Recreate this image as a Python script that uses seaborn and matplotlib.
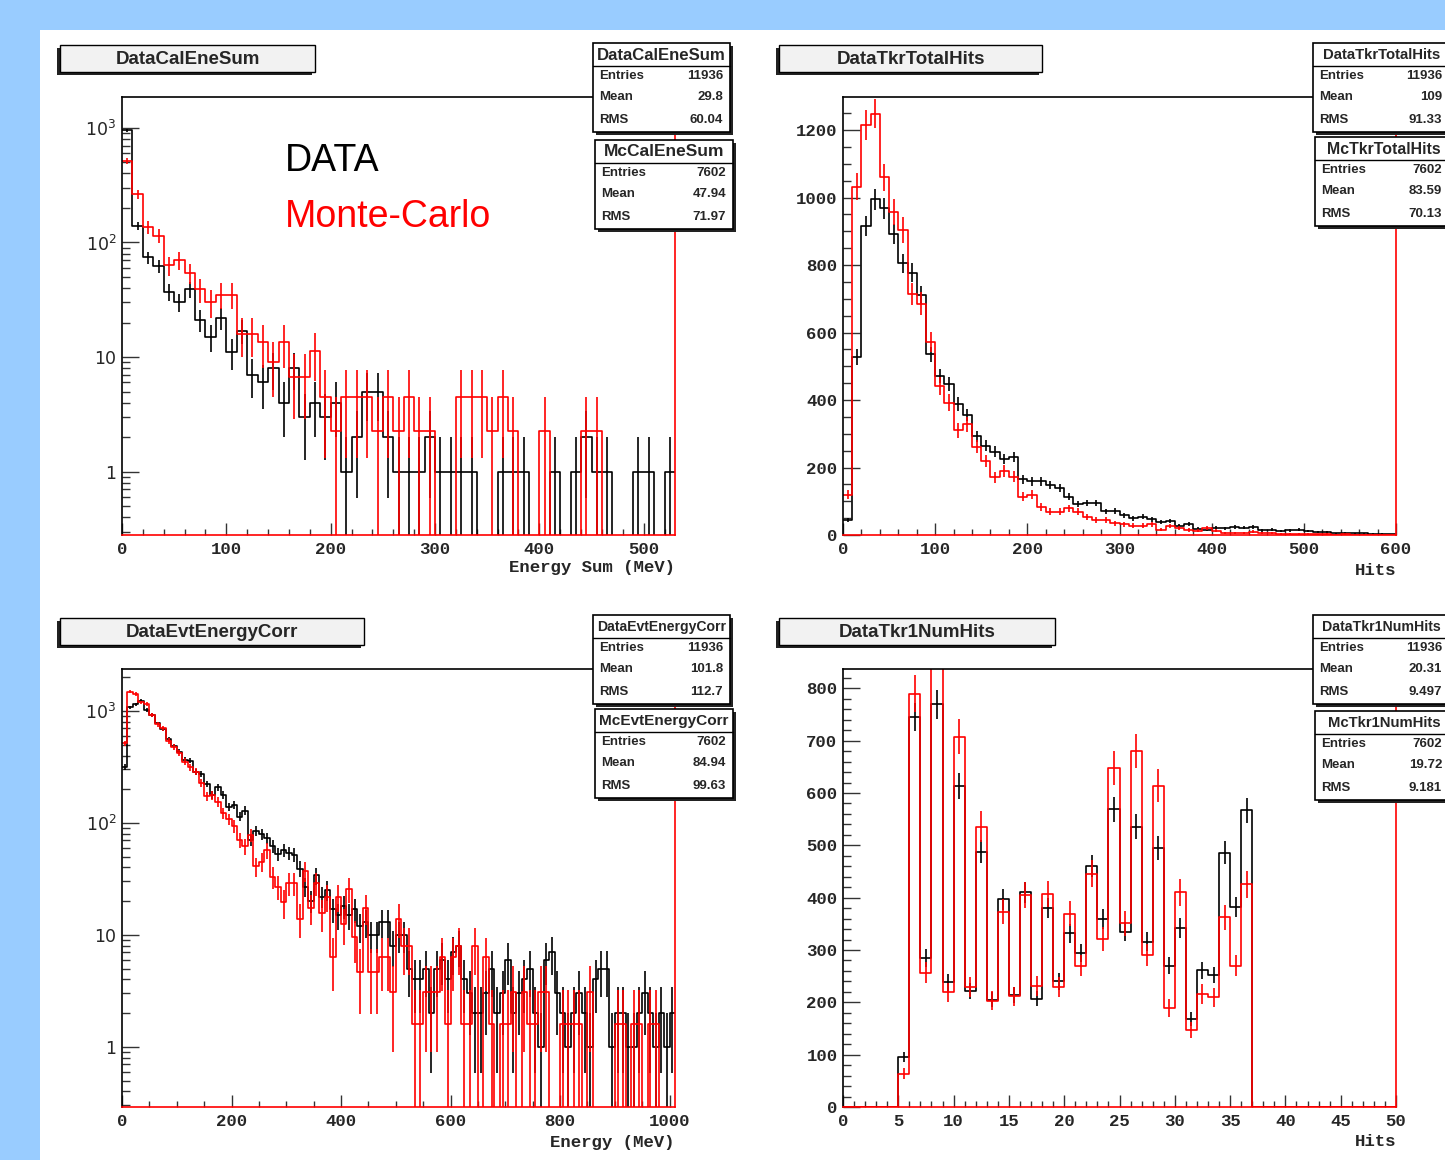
import numpy as np
import pandas as pd
import matplotlib
matplotlib.use("Agg")
import matplotlib.pyplot as plt
from matplotlib.patches import Rectangle
from matplotlib.lines import Line2D
from matplotlib.ticker import MultipleLocator, LogLocator, NullFormatter
import seaborn as sns

W, H = 1445, 1160

# ---- DataCalEneSum / McCalEneSum (10 MeV bins, 0-530) ----
cal_edges = np.arange(0, 531, 10)
cal_data = [950, 140, 74, 62, 37, 30, 39, 21, 15, 22, 11, 17, 7, 6, 8, 4, 8, 3, 4, 3,
            4, 1, 2, 5, 5, 2, 1, 1, 1, 2, 1, 1, 1, 1, 0, 0, 1, 1, 1, 0,
            0, 1, 0, 1, 2, 1, 1, 0, 0, 1, 1, 0, 1]
cal_mc = [515, 265, 136, 115, 63, 70, 54, 39, 30, 35, 35, 16, 16, 13.5, 9, 13.5, 6.75, 6.75, 11.25, 4.5,
          2.25, 4.5, 4.5, 4.5, 2.25, 4.5, 2.25, 4.5, 2.25, 2.25, 0, 0, 4.5, 4.5, 4.5, 2.25, 4.5, 2.25, 0, 0,
          2.25, 0, 0, 0, 2.25, 2.25, 0, 0, 0, 0, 0, 0, 0]
cal_scale = 2.25
cal_stats_data = ["11936", "29.8", "60.04"]
cal_stats_mc = ["7602", "47.94", "71.97"]

# ---- DataTkrTotalHits / McTkrTotalHits (10 hit bins, 0-600) ----
tkr_edges = np.arange(0, 601, 10)
tkr_data = [44, 528, 916, 995, 968, 891, 805, 777, 711, 535,
            471, 447, 388, 356, 292, 264, 247, 224, 232, 165,
            159, 159, 148, 138, 114, 92, 95, 95, 70, 72,
            58, 50, 54, 46, 38, 42, 28, 32, 18, 16,
            22, 20, 24, 22, 24, 14, 16, 12, 14, 16,
            12, 9, 9, 5, 6, 5, 5, 3, 4, 2]
tkr_mc = [120, 1032, 1215, 1249, 1060, 958, 904, 714, 686, 573,
          441, 392, 311, 328, 262, 219, 171, 190, 173, 114,
          119, 84, 69, 69, 79, 69, 54, 44, 44, 35,
          32, 28, 28, 32, 16, 27, 20, 15, 13, 20,
          13, 7, 7, 5, 10, 5, 6, 3, 4, 3,
          3, 2, 3, 1, 2, 1, 1, 1, 1, 0]
tkr_scale = 1.57
tkr_stats_data = ["11936", "109", "91.33"]
tkr_stats_mc = ["7602", "83.59", "70.13"]

# ---- DataEvtEnergyCorr / McEvtEnergyCorr (10 MeV bins, 0-1010) ----
evt_edges = np.arange(0, 1011, 10)
evt_data = [316, 1080, 1150, 1235, 1020, 920, 775, 686, 558, 487,
            433, 365, 360, 287, 274, 223, 178, 208, 178, 140,
            145, 114, 129, 70, 85, 80, 73, 62, 53, 57,
            54, 52, 39, 27, 20, 34, 22, 25, 17, 15,
            18, 15, 17, 12, 13, 10, 10, 13, 13, 8,
            10, 10, 5, 4, 4, 5, 2, 5, 6, 4,
            7, 8, 4, 3, 2, 2, 3, 5, 2, 3,
            6, 2, 3, 4, 5, 2, 1, 6, 7, 3,
            2, 1, 2, 3, 2, 1, 4, 5, 5, 1,
            2, 2, 1, 1, 2, 3, 2, 1, 2, 1, 2]
evt_mc = [515, 1490, 1420, 1190, 1150, 920, 760, 700, 540, 480,
          420, 353, 315, 287, 226, 174, 178, 155, 122, 108,
          93, 70, 62, 78, 41, 45, 57, 33, 27, 19.5,
          29, 29, 14, 37, 17.5, 29, 15.6, 22, 6.3, 22,
          12.6, 25.6, 9.5, 4.7, 17.5, 4.7, 4.7, 6.3, 6.3, 3.1,
          14, 7.9, 7.9, 1.6, 1.6, 3.1, 3.1, 3.1, 6.3, 1.6,
          6.3, 7.9, 1.6, 1.6, 7.9, 0, 6.3, 1.6, 0, 1.6,
          1.6, 3.1, 0, 3.1, 1.6, 1.6, 3.1, 3.1, 0, 0,
          1.6, 1.6, 1.6, 1.6, 0, 3.1, 0, 0, 0, 0,
          1.6, 1.6, 0, 1.6, 1.6, 0, 1.6, 1.6, 0, 0, 0]
evt_scale = 1.57
evt_stats_data = ["11936", "101.8", "112.7"]
evt_stats_mc = ["7602", "84.94", "99.63"]

# ---- DataTkr1NumHits / McTkr1NumHits (1 hit bins, 0-50) ----
hits_edges = np.arange(0, 51, 1)
hits_data = [0, 0, 0, 0, 0, 96, 745, 285, 770, 238,
             614, 222, 488, 205, 397, 214, 410, 207, 380, 240,
             332, 294, 461, 359, 569, 335, 536, 316, 495, 270,
             342, 168, 261, 252, 486, 382, 567, 0, 0, 0,
             0, 0, 0, 0, 0, 0, 0, 0, 0, 0]
hits_mc = [0, 0, 0, 0, 0, 64, 790, 257, 880, 219,
           708, 230, 536, 203, 373, 212, 405, 231, 407, 229,
           369, 270, 446, 321, 648, 351, 681, 291, 614, 189,
           410, 147, 216, 210, 363, 270, 426, 0, 0, 0,
           0, 0, 0, 0, 0, 0, 0, 0, 0, 0]
hits_scale = 1.57
hits_stats_data = ["11936", "20.31", "9.497"]
hits_stats_mc = ["7602", "19.72", "9.181"]

stat_labels = ["Entries", "Mean", "RMS"]

sns.set_style("ticks")
plt.rcParams["font.family"] = ["Liberation Sans", "DejaVu Sans"]
plt.rcParams["xtick.direction"] = "in"
plt.rcParams["ytick.direction"] = "in"

fig = plt.figure(figsize=(W / 100, H / 100), dpi=100)
fig.patch.set_facecolor("#99ccff")
fig.add_artist(Rectangle((40 / W, 0), 1 - 40 / W, 1 - 30 / H, transform=fig.transFigure,
                         facecolor="white", edgecolor="none", zorder=-10))
renderer = fig.canvas.get_renderer()

MONO = dict(fontfamily="Liberation Mono", fontweight="bold", fontsize=12.5)


def px(x, y):
    return x / W, 1 - y / H


def make_ax(x0, y0, x1, y1):
    return fig.add_axes([x0 / W, 1 - y1 / H, (x1 - x0) / W, (y1 - y0) / H])


def draw_hist(ax, edges, vals, color, scale, log):
    vals = np.asarray(vals, dtype=float)
    centers = (edges[:-1] + edges[1:]) / 2
    floor = 1e-3 if log else 0
    df = pd.DataFrame({"x": centers, "w": np.where(vals > 0, vals, floor)})
    sns.histplot(data=df, x="x", weights="w", bins=[float(e) for e in edges],
                 element="step", fill=False, color=color, linewidth=1.2, ax=ax)
    err = np.sqrt(vals * scale)
    m = vals > 0
    lo = np.maximum(vals - err, floor)
    ax.vlines(centers[m], lo[m], (vals + err)[m], colors=color, linewidth=1.2)


def style_ax(ax, log):
    for side in ["left", "top"]:
        ax.spines[side].set_color("black")
    for side in ["right", "bottom"]:
        ax.spines[side].set_color("red")
    for s in ax.spines.values():
        s.set_linewidth(1.2)
    ax.set_ylabel("")
    ax.tick_params(axis="x", which="major", length=8.5, width=1, color="#333333", pad=5)
    ax.tick_params(axis="x", which="minor", length=4.5, width=1, color="#333333")
    ax.tick_params(axis="y", which="major", length=12, width=1, color="#333333", pad=4)
    ax.tick_params(axis="y", which="minor", length=6, width=1, color="#333333")
    if log:
        ax.set_yscale("log")
        ax.set_yticks([1, 10, 100, 1000], ["1", "10", "$10^2$", "$10^3$"],
                      fontfamily="DejaVu Sans", fontsize=12.5)
        ax.yaxis.set_minor_locator(LogLocator(base=10, subs=np.arange(2, 10)))
        ax.yaxis.set_minor_formatter(NullFormatter())


def set_xticks(ax, major, step_minor):
    ax.set_xticks(major, [str(v) for v in major], **MONO)
    ax.xaxis.set_minor_locator(MultipleLocator(step_minor))


def set_yticks(ax, major, step_minor):
    ax.set_yticks(major, [str(v) for v in major], **MONO)
    ax.yaxis.set_minor_locator(MultipleLocator(step_minor))


def fit(txt, maxw):
    bb = txt.get_window_extent(renderer=renderer)
    if bb.width > maxw:
        txt.set_fontsize(txt.get_fontsize() * maxw / bb.width)


def title_box(x0, y0, x1, y1, text):
    fig.add_artist(Rectangle(px(x0 - 3, y1 + 3), (x1 - x0) / W, (y1 - y0) / H,
                             transform=fig.transFigure, facecolor="#222222",
                             edgecolor="none", zorder=5))
    fig.add_artist(Rectangle(px(x0, y1), (x1 - x0) / W, (y1 - y0) / H,
                             transform=fig.transFigure, facecolor="#f2f2f2",
                             edgecolor="black", linewidth=1, zorder=6))
    fig.text(*px((x0 + x1) / 2, (y0 + y1) / 2 + 1), text, ha="center", va="center",
             fontsize=13.5, fontweight="bold", zorder=7)


def stats_box(x0, y0, title, values, w=137, h=89):
    fig.add_artist(Rectangle(px(x0 + 3, y0 + h + 3), w / W, h / H, transform=fig.transFigure,
                             facecolor="#222222", edgecolor="none", zorder=8))
    fig.add_artist(Rectangle(px(x0, y0 + h), w / W, h / H, transform=fig.transFigure,
                             facecolor="white", edgecolor="black", linewidth=1.2, zorder=9))
    fig.add_artist(Line2D([x0 / W, (x0 + w) / W], [1 - (y0 + 23) / H] * 2, color="black",
                          linewidth=1, transform=fig.transFigure, zorder=10))
    cx = x0 + w / 2
    t = fig.text(*px(cx, y0 + 12), title, ha="center", va="center",
                 fontsize=12.5, fontweight="bold", zorder=10)
    # keep the header inside the box and inside the picture
    fit(t, min(w - 8, 2 * (W - 4 - cx)))
    for lab, val, dy in zip(stat_labels, values, [33, 54, 77]):
        fig.text(*px(x0 + 6, y0 + dy), lab, ha="left", va="center", fontsize=9.5,
                 fontweight="bold", zorder=10)
        fig.text(*px(min(x0 + w - 7, W - 3), y0 + dy), val, ha="right", va="center",
                 fontsize=9.5, fontweight="bold", zorder=10)


# top left: calorimeter energy sum
ax1 = make_ax(122, 97, 675, 535)
draw_hist(ax1, cal_edges, cal_data, "black", 1.0, True)
draw_hist(ax1, cal_edges, cal_mc, "red", cal_scale, True)
style_ax(ax1, True)
ax1.set_xlim(0, 530)
ax1.set_ylim(0.28, 1860)
set_xticks(ax1, np.arange(0, 501, 100), 20)
ax1.set_xlabel("Energy Sum (MeV)", loc="right", labelpad=2, **MONO)

# top right: tracker total hits
ax2 = make_ax(843, 97, 1396, 535)
draw_hist(ax2, tkr_edges, tkr_data, "black", 1.0, False)
draw_hist(ax2, tkr_edges, tkr_mc, "red", tkr_scale, False)
style_ax(ax2, False)
ax2.set_xlim(0, 600)
ax2.set_ylim(0, 1298)
set_xticks(ax2, np.arange(0, 601, 100), 20)
set_yticks(ax2, np.arange(0, 1201, 200), 50)
ax2.set_xlabel("Hits", loc="right", labelpad=4, **MONO)

# bottom left: corrected event energy
ax3 = make_ax(122, 669, 675, 1107)
draw_hist(ax3, evt_edges, evt_data, "black", 1.0, True)
draw_hist(ax3, evt_edges, evt_mc, "red", evt_scale, True)
style_ax(ax3, True)
ax3.set_xlim(0, 1010)
ax3.set_ylim(0.29, 2370)
set_xticks(ax3, np.arange(0, 1001, 200), 50)
ax3.set_xlabel("Energy (MeV)", loc="right", labelpad=4, **MONO)

# bottom right: hits in first tracker layer
ax4 = make_ax(843, 669, 1396, 1107)
draw_hist(ax4, hits_edges, hits_data, "black", 1.0, False)
draw_hist(ax4, hits_edges, hits_mc, "red", hits_scale, False)
style_ax(ax4, False)
ax4.set_xlim(0, 50)
ax4.set_ylim(0, 837)
set_xticks(ax4, np.arange(0, 51, 5), 1)
set_yticks(ax4, np.arange(0, 801, 100), 20)
ax4.set_xlabel("Hits", loc="right", labelpad=4, **MONO)

# titles and stat boxes
title_box(60, 45, 315, 72, "DataCalEneSum")
title_box(779, 45, 1042, 72, "DataTkrTotalHits")
title_box(60, 618, 364, 645, "DataEvtEnergyCorr")
title_box(779, 618, 1055, 645, "DataTkr1NumHits")

stats_box(593, 43, "DataCalEneSum", cal_stats_data)
stats_box(595, 140, "McCalEneSum", cal_stats_mc, w=138)
stats_box(1313, 43, "DataTkrTotalHits", tkr_stats_data)
stats_box(1315, 137, "McTkrTotalHits", tkr_stats_mc, w=138)
stats_box(593, 615, "DataEvtEnergyCorr", evt_stats_data)
stats_box(595, 709, "McEvtEnergyCorr", evt_stats_mc, w=138)
stats_box(1313, 615, "DataTkr1NumHits", hits_stats_data)
stats_box(1315, 711, "McTkr1NumHits", hits_stats_mc, w=138)

fig.text(*px(285, 161), "DATA", fontsize=27, ha="left", va="center", color="black")
fig.text(*px(285, 217), "Monte-Carlo", fontsize=27, ha="left", va="center", color="red")

fig.savefig("out.png", dpi=100, facecolor=fig.get_facecolor())
